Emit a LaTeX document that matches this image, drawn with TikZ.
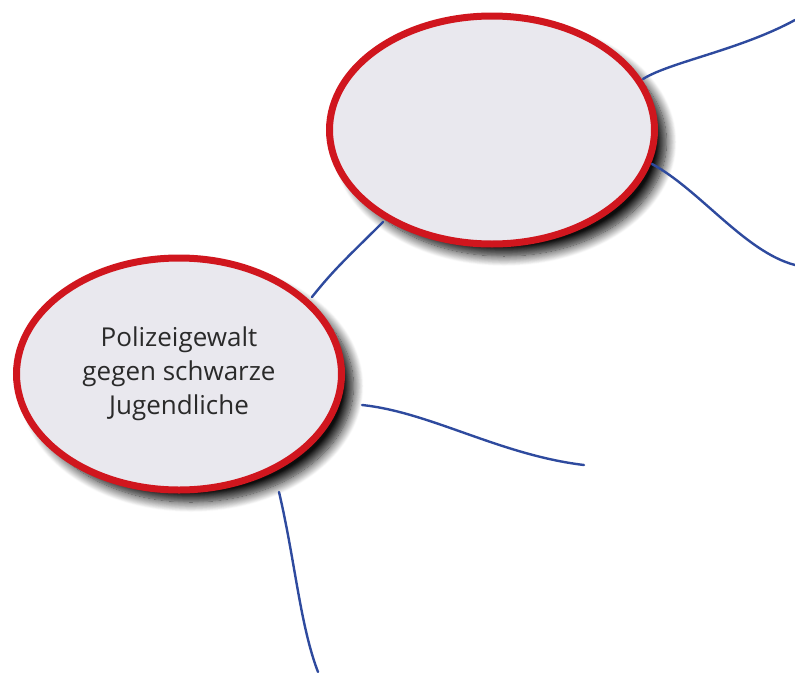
\documentclass[tikz,border=0pt]{standalone}
\usepackage{fontspec}
\setmainfont{Open Sans}
\usetikzlibrary{shapes.geometric,shadows.blur}
\definecolor{bubblefill}{HTML}{E9E8EE}
\definecolor{bubblered}{HTML}{D0161E}
\definecolor{linkblue}{HTML}{2E4A9E}
\definecolor{textgray}{HTML}{2A2A2A}
\tikzset{
  bubble/.style={ellipse, draw=bubblered, line width=7pt, fill=bubblefill,
    inner sep=0pt, align=center, text=textgray,
    font=\fontsize{26}{34}\selectfont,
    blur shadow={shadow xshift=12pt, shadow yshift=-12pt, shadow blur steps=14,
      shadow blur radius=10pt, shadow opacity=95}},
  link/.style={draw=linkblue, line width=2.4pt, line cap=round}
}
\begin{document}
\begin{tikzpicture}[x=1pt,y=-1pt]
\useasboundingbox (0,0) rectangle (795,672);
\node[bubble, minimum width=325pt, minimum height=228pt] (top) at (492,130) {};
\node[bubble, minimum width=325pt, minimum height=232pt] (left) at (179,374)
  {Polizeigewalt\\gegen schwarze\\Jugendliche};
\coordinate (a1) at (643,79);
\coordinate (e1) at (795,20);
\coordinate (a2) at (652,164);
\coordinate (e2) at (795,265);
\coordinate (a3) at (383,222);
\coordinate (e3) at (312,297);
\coordinate (a4) at (362,405);
\coordinate (e4) at (584,465);
\coordinate (a5) at (279,492);
\coordinate (e5) at (318,672);
\path[link] (a1) .. controls (670,62) and (740,50) .. (e1);
\path[link] (a2) .. controls (700,190) and (745,252) .. (e2);
\path[link] (a3) .. controls (350,255) and (335,268) .. (e3);
\path[link] (a4) .. controls (430,412) and (500,455) .. (e4);
\path[link] (a5) .. controls (295,560) and (300,625) .. (e5);
\end{tikzpicture}
\end{document}
